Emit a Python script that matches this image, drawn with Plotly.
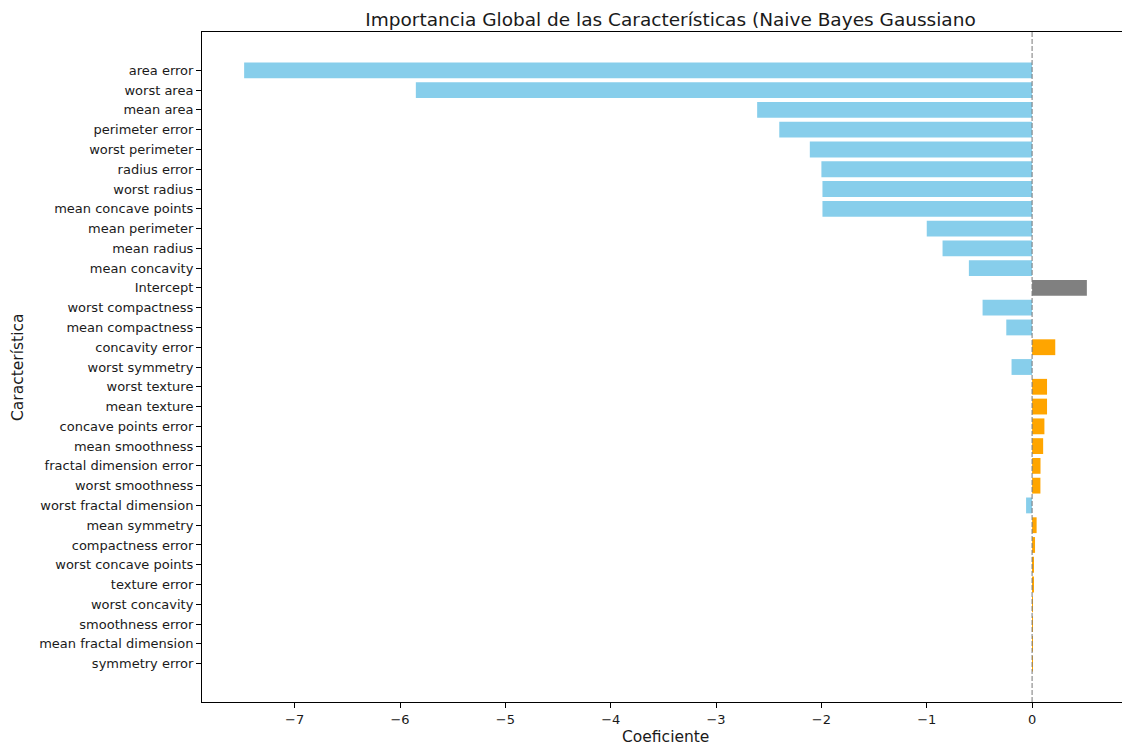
import plotly.graph_objects as go

features = [
    "area error", "worst area", "mean area", "perimeter error", "worst perimeter",
    "radius error", "worst radius", "mean concave points", "mean perimeter", "mean radius",
    "mean concavity", "Intercept", "worst compactness", "mean compactness", "concavity error",
    "worst symmetry", "worst texture", "mean texture", "concave points error", "mean smoothness",
    "fractal dimension error", "worst smoothness", "worst fractal dimension", "mean symmetry",
    "compactness error", "worst concave points", "texture error", "worst concavity",
    "smoothness error", "mean fractal dimension", "symmetry error",
]
coefs = [
    -7.48, -5.85, -2.61, -2.40, -2.11,
    -2.00, -1.99, -1.99, -1.00, -0.85,
    -0.60, 0.52, -0.47, -0.245, 0.22,
    -0.195, 0.142, 0.142, 0.117, 0.105,
    0.080, 0.079, -0.057, 0.043,
    0.028, 0.017, 0.017, 0.006,
    0.005, 0.004, 0.004,
]

COL_NEG = "#87CEEB"
COL_POS = "#FFA500"
COL_INT = "#808080"
colors = [COL_INT if f == "Intercept" else (COL_POS if v > 0 else COL_NEG)
          for f, v in zip(features, coefs)]

FONT = "DejaVu Sans"
TXT = "#1a1a1a"
n = len(features)

W, H = 1122, 738
L, R, T, B = 194, 1, 24, 44
PW = W - L - R
PH = H - T - B

fig = go.Figure(go.Bar(
    x=coefs, y=features, orientation="h",
    marker=dict(color=colors, line=dict(width=0)),
))

fig.add_shape(type="line", xref="x", yref="paper", x0=0, x1=0, y0=0, y1=1,
              line=dict(color="#777777", width=1, dash="5px,2px"), layer="above")

fig.add_annotation(text="Característica", xref="paper", yref="paper",
                   x=(10 - L) / PW, y=0.5, xanchor="center", yanchor="middle",
                   textangle=-90, showarrow=False,
                   font=dict(size=15.5, family=FONT, color=TXT))
fig.add_annotation(text="Coeficiente", xref="paper", yref="paper",
                   x=(621 + 710) / 2 / 1 - 8 - L, y=-(729 - (T + PH)) / PH,
                   xanchor="center", yanchor="middle",
                   showarrow=False, font=dict(size=15.5, family=FONT, color=TXT))
# fix x of Coeficiente to paper fraction
fig.layout.annotations[1].x = ((621 + 710) / 2 - 8 - L) / PW

fig.update_layout(
    width=W, height=H,
    margin=dict(l=L, r=R, t=T, b=B),
    paper_bgcolor="white", plot_bgcolor="white",
    bargap=0.2, showlegend=False,
    font=dict(family=FONT, color=TXT, size=13),
    title=dict(text="Importancia Global de las Características (Naive Bayes Gaussiano",
               x=((359 + 982) / 2 - 8) / W, xanchor="center", y=1 - 12 / H, yanchor="middle",
               font=dict(size=18.5, family=FONT, color=TXT)),
    xaxis=dict(
        range=[-7.88, 0.92], tickvals=[-7, -6, -5, -4, -3, -2, -1, 0],
        showgrid=False, zeroline=False, showline=True, linecolor="black", linewidth=1,
        mirror=True, ticks="outside", ticklen=5, tickcolor="black",
        tickfont=dict(size=13, family=FONT, color=TXT),
    ),
    yaxis=dict(
        categoryorder="array", categoryarray=features,
        range=[n - 1 + 1.94, -1.94],
        showgrid=False, zeroline=False, showline=True, linecolor="black", linewidth=1,
        mirror=True, ticks="outside", ticklen=5, tickcolor="black",
        tickfont=dict(size=13, family=FONT, color=TXT),
    ),
)

fig.write_html("out.html")
